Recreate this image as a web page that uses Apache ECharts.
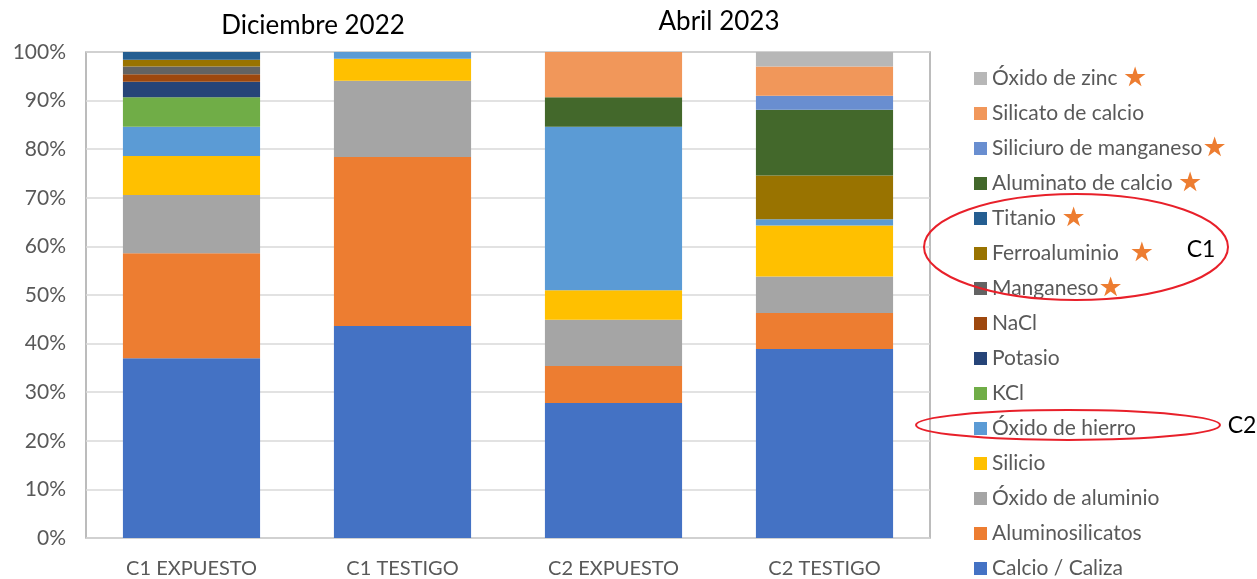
<!DOCTYPE html>
<html>
<head>
<meta charset="utf-8">
<script src="https://cdn.jsdelivr.net/npm/echarts@6/dist/echarts.min.js"></script>
<style>
  html, body { margin: 0; padding: 0; background: #fff; }
  #chart { width: 1257px; height: 579px; }
</style>
</head>
<body>
<div id="chart"></div>
<script>
// Muestras analizadas
const categories = ['C1 EXPUESTO', 'C1 TESTIGO', 'C2 EXPUESTO', 'C2 TESTIGO'];

// Composición (%) por compuesto, en el orden de apilado (de abajo hacia arriba)
const calcioCaliza          = [37.0, 43.6, 27.8, 38.9];
const aluminosilicatos      = [21.6, 34.8,  7.6,  7.4];
const oxidoAluminio         = [12.0, 15.7,  9.5,  7.5];
const silicio               = [ 8.0,  4.5,  6.1, 10.5];
const oxidoHierro           = [ 6.0,  1.4, 33.6,  1.3];
const kcl                   = [ 6.1,  0,    0,    0  ];
const potasio               = [ 3.2,  0,    0,    0  ];
const nacl                  = [ 1.5,  0,    0,    0  ];
const manganeso             = [ 1.6,  0,    0,    0  ];
const ferroaluminio         = [ 1.4,  0,    0,    9.0];
const titanio               = [ 1.6,  0,    0,    0  ];
const aluminatoCalcio       = [ 0,    0,    6.1, 13.5];
const siliciuroManganeso    = [ 0,    0,    0,    2.9];
const silicatoCalcio        = [ 0,    0,    9.3,  6.0];
const oxidoZinc             = [ 0,    0,    0,    3.0];

const yTicks = [0, 10, 20, 30, 40, 50, 60, 70, 80, 90, 100];

const seriesDefs = [
  ['Calcio / Caliza',        calcioCaliza,       '#4472C4'],
  ['Aluminosilicatos',       aluminosilicatos,   '#ED7D31'],
  ['Óxido de aluminio',      oxidoAluminio,      '#A5A5A5'],
  ['Silicio',                silicio,            '#FFC000'],
  ['Óxido de hierro',        oxidoHierro,        '#5B9BD5'],
  ['KCl',                    kcl,                '#70AD47'],
  ['Potasio',                potasio,            '#264478'],
  ['NaCl',                   nacl,               '#9E480E'],
  ['Manganeso',              manganeso,          '#636363'],
  ['Ferroaluminio',          ferroaluminio,      '#997300'],
  ['Titanio',                titanio,            '#255E91'],
  ['Aluminato de calcio',    aluminatoCalcio,    '#43682B'],
  ['Siliciuro de manganeso', siliciuroManganeso, '#698ED0'],
  ['Silicato de calcio',     silicatoCalcio,     '#F1975A'],
  ['Óxido de zinc',          oxidoZinc,          '#B7B7B7']
];

// Compuestos marcados con estrella en la leyenda (con el espacio previo)
const starred = {
  'Óxido de zinc': ' ',
  'Siliciuro de manganeso': '',
  'Aluminato de calcio': ' ',
  'Titanio': ' ',
  'Ferroaluminio': '  ',
  'Manganeso': ''
};

const FONT = 'Lato, "Open Sans", sans-serif';

const chart = echarts.init(document.getElementById('chart'), null, { renderer: 'canvas' });

chart.setOption({
  animation: false,
  backgroundColor: '#ffffff',
  grid: {
    left: 86, right: 327, top: 52, bottom: 41,
    show: true, borderColor: '#A6A6A6', borderWidth: 1.5
  },
  xAxis: {
    type: 'category',
    data: categories,
    axisLine: { show: false },
    axisTick: { show: false },
    axisLabel: { color: '#595959', fontSize: 20, fontFamily: FONT, margin: 21 }
  },
  yAxis: {
    type: 'value',
    min: yTicks[0],
    max: yTicks[yTicks.length - 1],
    interval: 10,
    axisLine: { show: false },
    axisTick: { show: false },
    axisLabel: { color: '#595959', fontSize: 21, fontFamily: FONT, margin: 20, formatter: '{value}%' },
    splitLine: { lineStyle: { color: '#D9D9D9', width: 1.5 } }
  },
  legend: {
    orient: 'vertical',
    left: 969,
    top: 60,
    height: 545,
    icon: 'rect',
    itemWidth: 13,
    itemHeight: 13,
    itemGap: 8,
    data: seriesDefs.map(d => d[0]).reverse(),
    formatter: name => '{t|' + name + '}' + ((name in starred) ? starred[name] + '{s|★}' : ''),
    textStyle: {
      color: '#595959', fontSize: 21, fontFamily: FONT, lineHeight: 27,
      rich: {
        t: { color: '#595959', fontSize: 21, lineHeight: 27, fontFamily: FONT },
        s: { color: '#ED7D31', fontSize: 27, lineHeight: 27, fontFamily: '"DejaVu Sans", sans-serif' }
      }
    }
  },
  series: seriesDefs.map(([name, values, color]) => ({
    name,
    type: 'bar',
    stack: 'total',
    barWidth: '65%',
    data: values,
    itemStyle: { color },
    emphasis: { disabled: true }
  })),
  graphic: [
    { type: 'text', x: 313, y: 26,
      style: { text: 'Diciembre 2022', fill: '#000', fontSize: 26, fontFamily: FONT, align: 'center', verticalAlign: 'middle' } },
    { type: 'text', x: 719, y: 22,
      style: { text: 'Abril 2023', fill: '#000', fontSize: 26, fontFamily: FONT, align: 'center', verticalAlign: 'middle' } },
    { type: 'ellipse', shape: { cx: 1076, cy: 247, rx: 152, ry: 53 },
      style: { fill: 'none', stroke: '#E8202A', lineWidth: 2 }, z: 100 },
    { type: 'text', x: 1201, y: 250,
      style: { text: 'C1', fill: '#000', fontSize: 23, fontFamily: FONT, align: 'center', verticalAlign: 'middle' }, z: 100 },
    { type: 'ellipse', shape: { cx: 1068, cy: 425, rx: 152, ry: 15 },
      style: { fill: 'none', stroke: '#E8202A', lineWidth: 2 }, z: 100 },
    { type: 'text', x: 1242, y: 426,
      style: { text: 'C2', fill: '#000', fontSize: 23, fontFamily: FONT, align: 'center', verticalAlign: 'middle' }, z: 100 }
  ]
});
</script>
</body>
</html>
